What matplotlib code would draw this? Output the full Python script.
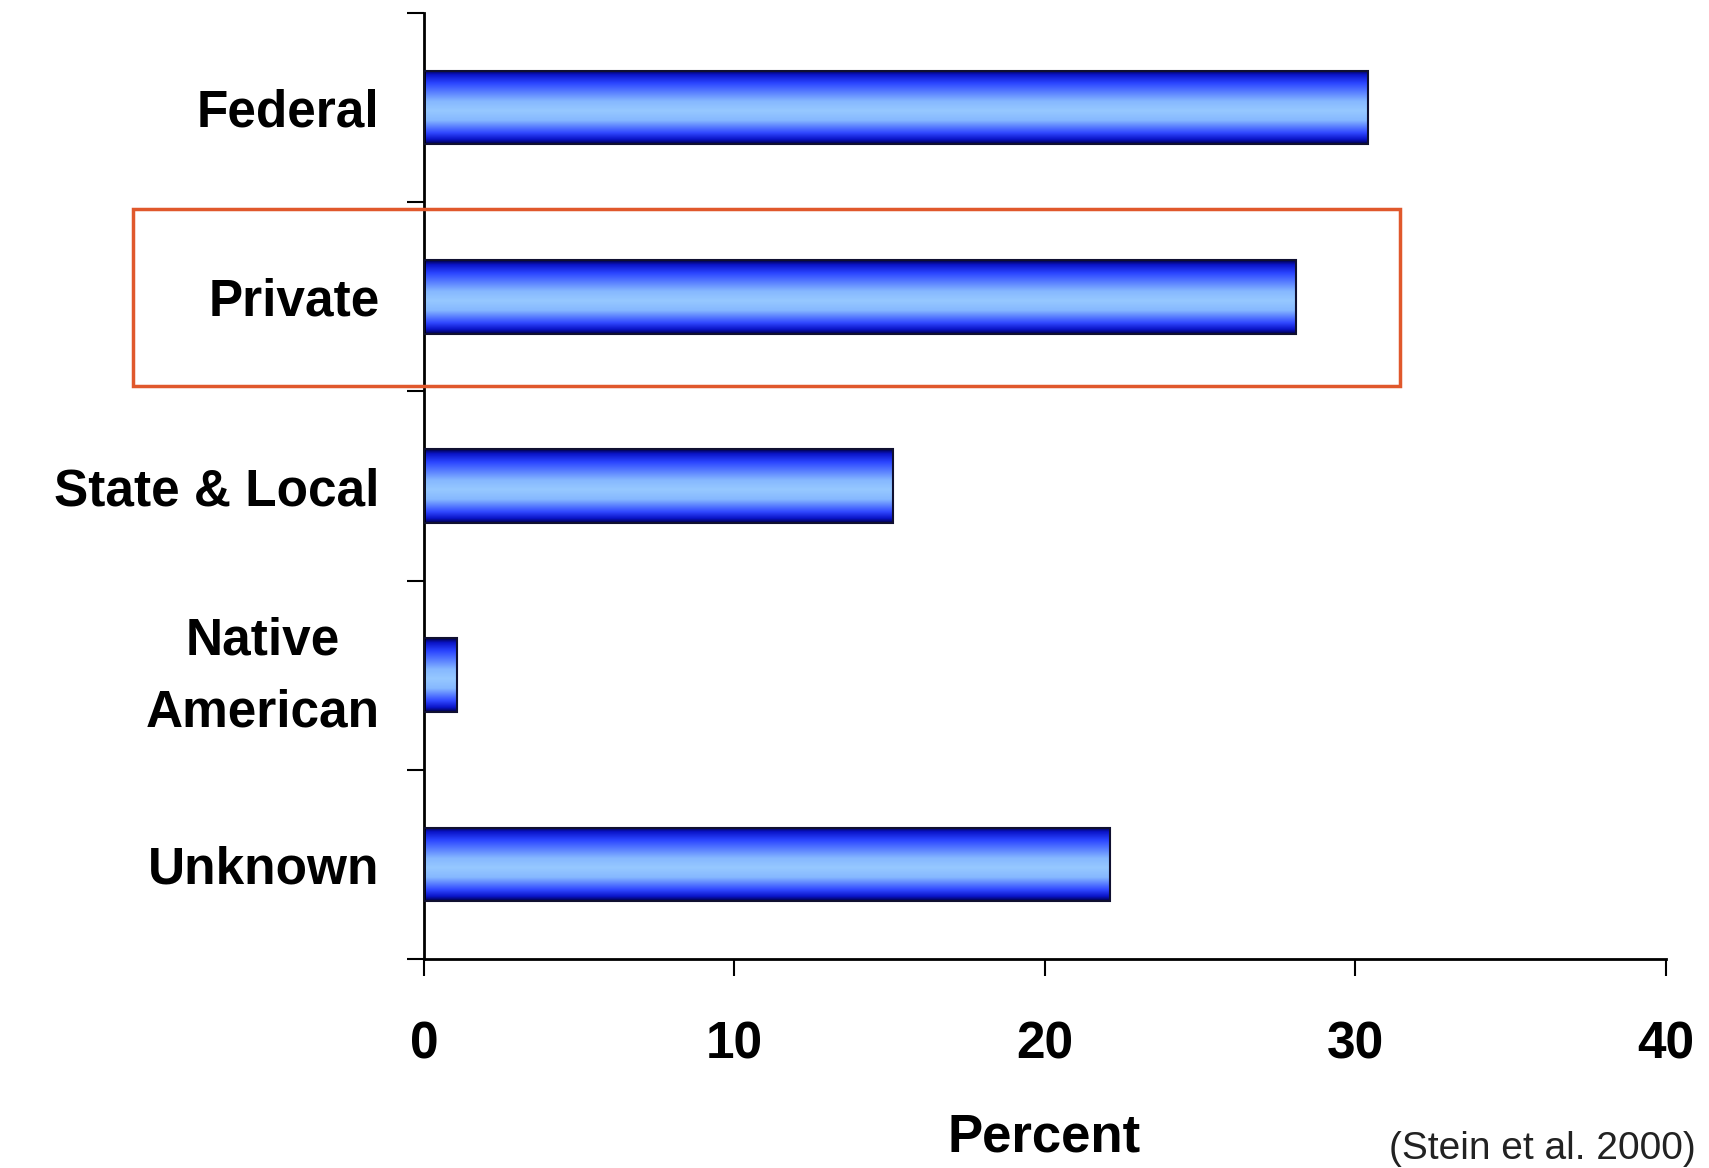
import numpy as np
import matplotlib.pyplot as plt
import matplotlib.transforms as mtransforms
from matplotlib.colors import LinearSegmentedColormap
from matplotlib.patches import Rectangle

categories = ["Federal", "Private", "State & Local", "Native\nAmerican", "Unknown"]
percent = [30.4, 28.1, 15.1, 1.05, 22.1]
x_ticks = [0, 10, 20, 30, 40]
source = "(Stein et al. 2000)"

plt.rcParams['font.family'] = ['Liberation Sans', 'DejaVu Sans']
plt.rcParams['font.weight'] = 'bold'

fig = plt.figure(figsize=(17.09, 11.68), dpi=100)
ax = fig.add_axes([0.2481, 0.1789, 0.7267, 0.81])

# bar shading: dark edges, light centre
shade = LinearSegmentedColormap.from_list("bar", [
    (0.0, "#000048"), (0.06, "#0a14c8"), (0.17, "#2a44ff"),
    (0.42, "#86b8ff"), (0.55, "#96c8ff"), (0.68, "#86b8ff"),
    (0.85, "#3048ff"), (0.94, "#0a14c8"), (1.0, "#000048")])
grad = np.linspace(0, 1, 200).reshape(-1, 1)

ypos = np.arange(len(categories))
bars = ax.barh(ypos, percent, height=0.39, color='none',
               edgecolor='#101030', linewidth=1.5, zorder=3)
for b in bars:
    x0, y0, w, h = b.get_x(), b.get_y(), b.get_width(), b.get_height()
    im = ax.imshow(grad, cmap=shade, aspect='auto', origin='upper',
                   extent=(x0, x0 + w, y0 + h, y0), zorder=2)
    im.set_clip_path(b)

ax.set_xlim(0, 40)
ax.set_ylim(len(categories) - 0.5, -0.5)
ax.set_xticks(x_ticks)
ax.set_xticklabels([str(t) for t in x_ticks], fontsize=37, fontweight='bold')
ax.set_yticks(np.arange(len(categories) + 1) - 0.5)
ax.set_yticklabels([])
ax.set_yticks(ypos, minor=True)
ax.set_yticklabels(categories, minor=True, fontsize=37, fontweight='bold',
                   linespacing=1.6, multialignment='center')
ax.tick_params(axis='y', which='minor', length=0, pad=32)
ax.tick_params(axis='y', which='major', length=12, width=1.5, direction='out')
ax.tick_params(axis='x', length=12, width=1.5, direction='out', pad=32)

# two-line label sits a bit high in the original
for lbl in ax.get_yticklabels(minor=True):
    if "\n" in lbl.get_text():
        shift = mtransforms.ScaledTranslation(0, 0.15, fig.dpi_scale_trans)
        lbl.set_transform(lbl.get_transform() + shift)

for s in ['top', 'right']:
    ax.spines[s].set_visible(False)
for s in ['left', 'bottom']:
    ax.spines[s].set_linewidth(2)

fig.text(0.611, 0.0265, "Percent", fontsize=38, fontweight='bold',
         ha='center', va='center')
fig.text(0.813, 0.001, source, fontsize=28, fontweight='normal',
         ha='left', va='bottom', color='#222222')

box = Rectangle((0.0778, 0.6695), 0.7414, 0.1515, transform=fig.transFigure,
                fill=False, edgecolor='#e0582c', linewidth=2.5)
fig.patches.append(box)

fig.savefig("out.png", dpi=100)
